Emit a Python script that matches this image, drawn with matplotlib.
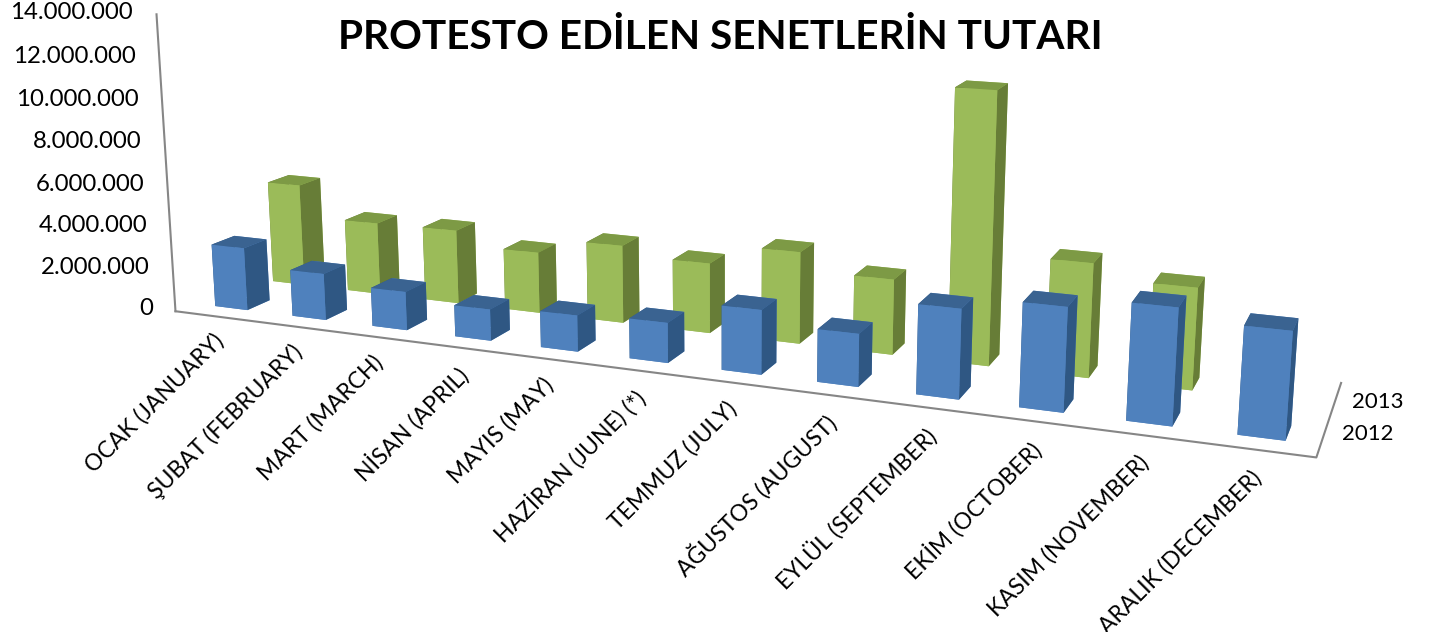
import matplotlib
matplotlib.use("Agg")
import matplotlib.pyplot as plt
from mpl_toolkits.mplot3d import Axes3D, proj3d

plt.rcParams['font.family'] = ['Lato', 'DejaVu Sans']

months = ["OCAK (JANUARY)", "ŞUBAT (FEBRUARY)", "MART (MARCH)", "NİSAN (APRIL)",
          "MAYIS (MAY)", "HAZİRAN (JUNE) (*)", "TEMMUZ (JULY)", "AĞUSTOS (AUGUST)",
          "EYLÜL (SEPTEMBER)", "EKİM (OCTOBER)", "KASIM (NOVEMBER)", "ARALIK (DECEMBER)"]
vals_2012 = [3.0e6, 2.2e6, 1.8e6, 1.45e6, 1.65e6, 1.8e6, 2.85e6, 2.3e6, 3.85e6, 4.4e6, 4.85e6, 4.4e6]
vals_2013 = [5.0e6, 3.5e6, 3.55e6, 2.9e6, 3.65e6, 3.25e6, 4.2e6, 3.4e6, 12.0e6, 5.0e6, 4.4e6, 0]
yticks = [0, 2e6, 4e6, 6e6, 8e6, 10e6, 12e6, 14e6]
series = ["2012", "2013"]

# bottom, top, front, back, left, right
blue_faces = ["#4f81bd", "#3a6391", "#4f81bd", "#4f81bd", "#2f5783", "#2f5783"]
green_faces = ["#9bbb59", "#7d9a45", "#9bbb59", "#9bbb59", "#677d37", "#677d37"]

fig = plt.figure(figsize=(14.32, 6.32), dpi=100)
ax = fig.add_axes([-0.0075, -0.466, 1, 2.266], projection='3d')
ax.set_axis_off()
ax.set_proj_type('persp', focal_length=0.26)
ax.view_init(elev=13, azim=-68)
ax.set_box_aspect((12, 2.2, 3.25), zoom=0.847)
ax.set_xlim(0, 12)
ax.set_ylim(0, 2)
ax.set_zlim(0, 14e6)

w = 0.42
d = 0.38
for i in range(12):
    ax.bar3d(i + 0.28, 0.3, 0, w, d, vals_2012[i], color=blue_faces, shade=False)
    if vals_2013[i] > 0:
        ax.bar3d(i + 0.28, 1.3, 0, w, d, vals_2013[i], color=green_faces, shade=False)

# floor outline and value axis
grey = "#868686"
ax.plot([0, 12, 12], [0, 0, 2], [0, 0, 0], color=grey, lw=1.5)
ax.plot([0, 0], [0, 0], [0, 14e6], color=grey, lw=1.5)

# labels placed in 2D so they can keep their own angle
M = ax.get_proj()
def put_text(x, y, z, s, **kw):
    px, py, _ = proj3d.proj_transform(x, y, z, M)
    ax.text2D(px, py, s, transform=ax.transData, **kw)

for v in yticks:
    put_text(-0.3, 0, v, f"{int(v):,}".replace(",", "."), ha='right', va='center', fontsize=17.3)
for i, m in enumerate(months):
    put_text(i + 0.8 - 0.027 * i, -0.4, 0, m, ha='right', va='top', rotation=45,
             rotation_mode='anchor', fontsize=16.5)
put_text(12.15, 0.65, 0, series[0], ha='left', va='center', fontsize=16)
put_text(12.15, 1.5, 0, series[1], ha='left', va='center', fontsize=16)

fig.text(0.503, 0.94, "PROTESTO EDİLEN SENETLERİN TUTARI", ha='center', va='center',
         fontsize=29.2, fontweight='bold')

fig.savefig("out.png", dpi=100)
